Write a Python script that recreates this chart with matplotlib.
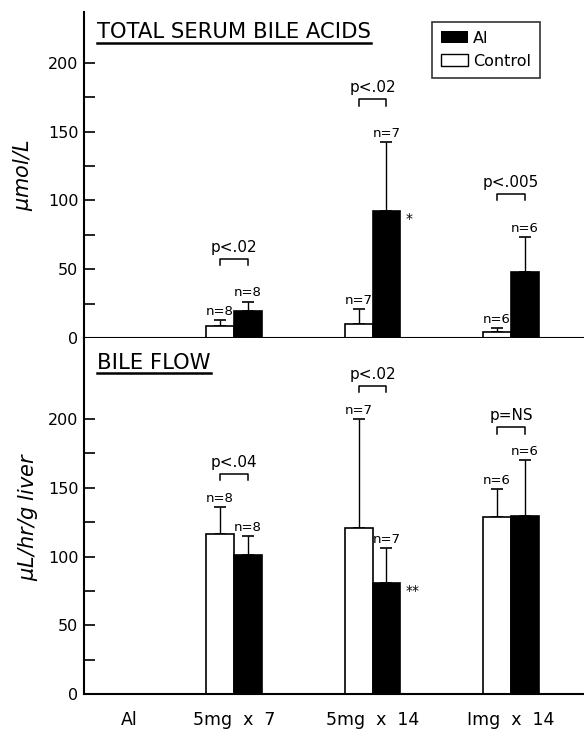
import numpy as np
import matplotlib
matplotlib.use("Agg")
import matplotlib.pyplot as plt
from matplotlib.lines import Line2D

# treatment groups along the x axis (first one has no bars)
groups = ["Al", "5mg  x  7", "5mg  x  14", "Img  x  14"]

# total serum bile acids (umol/L): mean and upper SD
tsba_control = [np.nan, 9, 10, 4.5]
tsba_control_err = [np.nan, 4, 11, 3]
tsba_al = [np.nan, 19.5, 92.5, 48]
tsba_al_err = [np.nan, 7, 50, 25.5]
tsba_n_control = ["", "n=8", "n=7", "n=6"]
tsba_n_al = ["", "n=8", "n=7", "n=6"]
tsba_p = ["", "p<.02", "p<.02", "p<.005"]
tsba_star = ["", "", "*", ""]

# bile flow (uL/hr/g liver)
flow_control = [np.nan, 116.5, 120.5, 128.5]
flow_control_err = [np.nan, 19.5, 79.5, 20.5]
flow_al = [np.nan, 101, 81, 129.5]
flow_al_err = [np.nan, 14, 25, 40.5]
flow_n_control = ["", "n=8", "n=7", "n=6"]
flow_n_al = ["", "n=8", "n=7", "n=6"]
flow_p = ["", "p<.04", "p<.02", "p=NS"]
flow_star = ["", "", "**", ""]

plt.rcParams["font.family"] = "DejaVu Sans"
plt.rcParams["mathtext.default"] = "it"

fig = plt.figure(figsize=(5.84, 7.30), dpi=100)
ax1 = fig.add_axes([84 / 584, 1 - 338 / 730, 1 - 84 / 584, 326 / 730])
ax2 = fig.add_axes([84 / 584, 1 - 694 / 730, 1 - 84 / 584, 356 / 730])

xpos = np.array([0.24, 1, 2, 3])
w = 0.2


def panel(ax, ctrl, ctrl_err, al, al_err, n_c, n_a, pvals, stars, top, gap):
    ax.bar(xpos - w / 2, ctrl, w, color="white", edgecolor="black", lw=1.2, zorder=2)
    ax.bar(xpos + w / 2, al, w, color="black", edgecolor="black", lw=1.2, zorder=2)
    # upper error bars only
    ax.errorbar(xpos - w / 2, ctrl, yerr=[np.zeros(4), ctrl_err], fmt="none",
                ecolor="black", elinewidth=1, capsize=4.5, capthick=1.2, zorder=1)
    ax.errorbar(xpos + w / 2, al, yerr=[np.zeros(4), al_err], fmt="none",
                ecolor="black", elinewidth=1, capsize=4.5, capthick=1.2, zorder=1)
    for i in range(1, 4):
        yc = ctrl[i] + ctrl_err[i]
        ya = al[i] + al_err[i]
        ax.annotate(n_c[i], (xpos[i] - w / 2, yc), xytext=(0, 1.5), textcoords="offset points",
                    ha="center", va="bottom", fontsize=9.5)
        ax.annotate(n_a[i], (xpos[i] + w / 2, ya), xytext=(0, 1.5), textcoords="offset points",
                    ha="center", va="bottom", fontsize=9.5)
        # bracket between the two bars
        yb = max(yc, ya) + gap
        x0, x1 = xpos[i] - w / 2, xpos[i] + w / 2
        ax.plot([x0, x0, x1, x1], [yb - 4.5, yb, yb, yb - 4.5], color="black", lw=1.1)
        ax.text(xpos[i], yb + 3, pvals[i], ha="center", va="bottom", fontsize=11)
        if stars[i]:
            ax.annotate(stars[i], (xpos[i] + w, al[i]), xytext=(4, -6), textcoords="offset points",
                        ha="left", va="center", fontsize=10)
    ax.set_xlim(-0.083, 3.527)
    ax.set_ylim(0, top)
    ax.set_yticks([0, 50, 100, 150, 200])
    ax.set_yticks([25, 75, 125, 175], minor=True)
    ax.tick_params(axis="y", which="both", direction="in", length=8, width=1.2,
                   labelsize=11.5, pad=4)
    for s in ["top", "right"]:
        ax.spines[s].set_visible(False)
    ax.spines["left"].set_linewidth(1.5)
    ax.spines["bottom"].set_linewidth(1.5)


panel(ax1, tsba_control, tsba_control_err, tsba_al, tsba_al_err,
      tsba_n_control, tsba_n_al, tsba_p, tsba_star, 237, 31)
panel(ax2, flow_control, flow_control_err, flow_al, flow_al_err,
      flow_n_control, flow_n_al, flow_p, flow_star, 259, 24)

ax1.set_xticks([])
ax2.set_xticks(xpos)
ax2.set_xticklabels(groups, fontsize=12.5)
ax2.tick_params(axis="x", length=0, pad=12)

ax1.set_ylabel(r"$\mu$mol/L", fontsize=15, labelpad=9)
ax2.set_ylabel(r"$\mu$L/hr/g liver", fontsize=15, labelpad=6)
ax1.yaxis.label.set_style("italic")
ax2.yaxis.label.set_style("italic")

t1 = fig.text(97 / 584, 1 - 32 / 730, "TOTAL SERUM BILE ACIDS", fontsize=15.2, va="center")
t2 = fig.text(97 / 584, 1 - 363 / 730, "BILE FLOW", fontsize=15.2, va="center")

ax1.bar([0], [0], color="black", label="Al")
ax1.bar([0], [0], color="white", edgecolor="black", label="Control")
leg = ax1.legend(loc="upper left", bbox_to_anchor=((432 - 84) / 500, 1 - 10 / 326),
                 fontsize=11.5, frameon=True, fancybox=False, edgecolor="black",
                 handlelength=1.7, handleheight=0.75, handletextpad=0.3, borderpad=0.55,
                 labelspacing=0.5, borderaxespad=0)
leg.get_frame().set_linewidth(1.2)

# underline the panel titles
fig.canvas.draw()
r = fig.canvas.get_renderer()
for t, dy in [(t1, 11), (t2, 10)]:
    bb = t.get_window_extent(r)
    ymid = (bb.y0 + bb.y1) / 2 - dy
    fig.add_artist(Line2D([bb.x0 / 584, bb.x1 / 584], [ymid / 730, ymid / 730],
                          color="black", lw=1.8))

fig.savefig("out.png", dpi=100)
